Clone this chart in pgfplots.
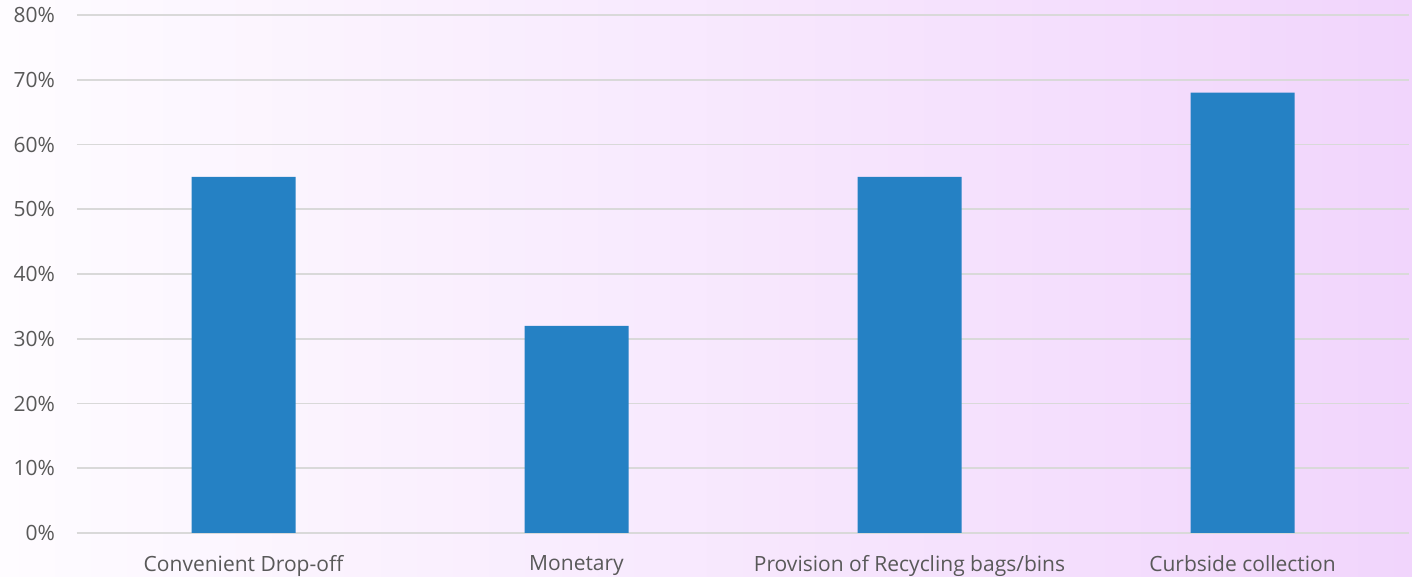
\documentclass[border=0pt]{standalone}
\usepackage{pgfplots}
\pgfplotsset{compat=1.18}
\usepackage{fontspec}
\setmainfont{Open Sans}
\definecolor{barc}{HTML}{2581C4}
\definecolor{gridc}{HTML}{D9D9D9}
\definecolor{txt}{HTML}{595959}
\definecolor{bgL}{HTML}{FEFCFF}
\definecolor{bgR}{HTML}{F1D5FC}
\begin{document}
\begin{tikzpicture}
\shade[left color=bgL, right color=bgR] (0,0) rectangle (706pt,288.5pt);
\useasboundingbox (0,0) rectangle (706pt,288.5pt);
\begin{axis}[
  at={(38.5pt,22pt)}, anchor=south west,
  width=666pt, height=259pt, scale only axis,
  ybar, bar width=52pt,
  xmin=-0.5, xmax=3.5, ymin=0, ymax=80,
  enlarge x limits=false, enlarge y limits=false,
  xtick=data,
  xticklabels={Convenient Drop-off, Monetary, Provision of Recycling bags/bins, Curbside collection},
  ytick={0,10,...,80},
  yticklabel={\pgfmathprintnumber{\tick}\%},
  /pgf/number format/assume math mode=true,
  ymajorgrids, grid style={draw=gridc, line width=0.9pt},
  axis x line*=bottom, axis y line*=left,
  y axis line style={draw=none},
  x axis line style={draw=gridc, line width=0.9pt},
  tick style={draw=none},
  ticklabel style={font=\fontsize{10.5}{12.5}\selectfont, text=txt},
  yticklabel style={xshift=-7.5pt},
  xticklabel style={yshift=-3.5pt},
  axis on top=false,
]
\addplot[fill=barc, draw=none] coordinates {(0,55) (1,32) (2,55) (3,68)};
\end{axis}
\end{tikzpicture}
\end{document}
